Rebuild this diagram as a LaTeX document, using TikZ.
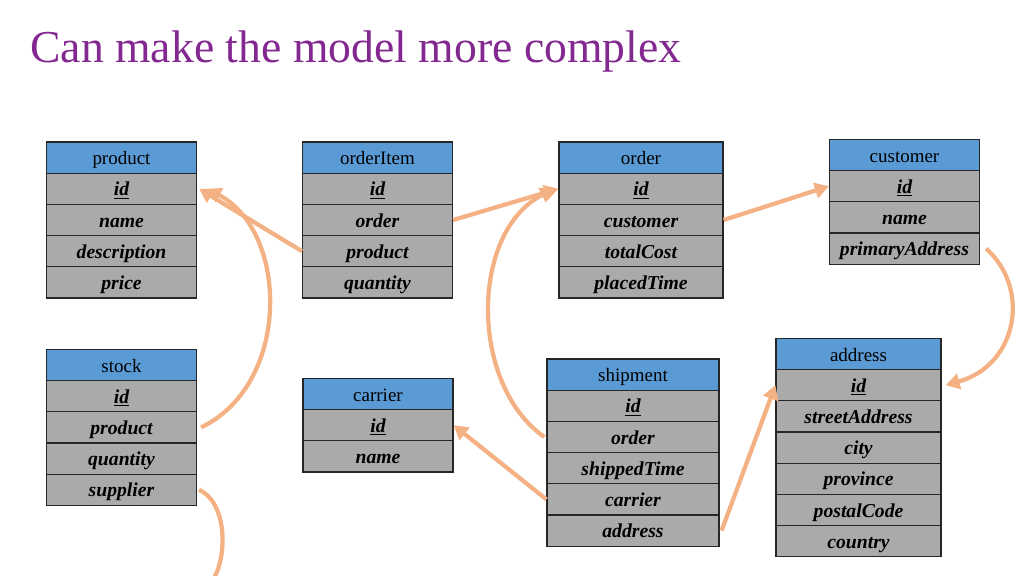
\documentclass[tikz,border=0pt]{standalone}
\usepackage{fontspec}
\setmainfont{Liberation Serif}
\usepackage{xcolor}
\usepackage{tikz}
\usetikzlibrary{arrows.meta}
\definecolor{headblue}{RGB}{91,155,213}
\definecolor{rowgray}{RGB}{170,170,170}
\definecolor{linkorange}{RGB}{244,177,131}
\definecolor{titlepurple}{RGB}{132,40,145}

\begin{document}
\begin{tikzpicture}[
x=0.025cm,
y=-0.025cm,
every node/.style={font=\fontsize{14}{16}\selectfont},
thead/.style={rectangle,draw=black!85,line width=0.8pt,fill=headblue,inner sep=0pt,minimum height=0.78cm,minimum width=#1,text height=11.5pt,text depth=1.5pt,font=\fontsize{13.5}{15}\selectfont},
tfield/.style={rectangle,draw=black!85,line width=0.8pt,fill=rowgray,inner sep=0pt,minimum height=0.78cm,minimum width=#1,text height=11.5pt,text depth=1.5pt,font=\fontsize{14}{16}\selectfont\bfseries\itshape},
tlink/.style={draw=linkorange,line width=3pt,-{Triangle[length=10pt,width=11pt]}},
tlinkopen/.style={draw=linkorange,line width=3pt},
ttitle/.style={text=titlepurple,inner sep=0pt,font=\fontsize{32.5}{36}\selectfont}
]
\useasboundingbox (0,0) rectangle (1024,576);

\node[ttitle,anchor=base west] (title) at (30,63) {Can make the model more complex};

\node[thead=3.75cm] (product) at (121.5,157.6) {product};
\node[tfield=3.75cm] (product-id) at (121.5,188.8) {\underline{id}};
\node[tfield=3.75cm] (product-name) at (121.5,220.0) {name};
\node[tfield=3.75cm] (product-description) at (121.5,251.2) {description};
\node[tfield=3.75cm] (product-price) at (121.5,282.4) {price};

\node[thead=3.75cm] (orderitem) at (377.5,157.6) {orderItem};
\node[tfield=3.75cm] (orderitem-id) at (377.5,188.8) {\underline{id}};
\node[tfield=3.75cm] (orderitem-order) at (377.5,220.0) {order};
\node[tfield=3.75cm] (orderitem-product) at (377.5,251.2) {product};
\node[tfield=3.75cm] (orderitem-quantity) at (377.5,282.4) {quantity};

\node[thead=4.1cm] (order) at (641,157.6) {order};
\node[tfield=4.1cm] (order-id) at (641,188.8) {\underline{id}};
\node[tfield=4.1cm] (order-customer) at (641,220.0) {customer};
\node[tfield=4.1cm] (order-totalcost) at (641,251.2) {totalCost};
\node[tfield=4.1cm] (order-placedtime) at (641,282.4) {placedTime};

\node[thead=3.75cm] (customer) at (904.5,155.0) {customer};
\node[tfield=3.75cm] (customer-id) at (904.5,186.2) {\underline{id}};
\node[tfield=3.75cm] (customer-name) at (904.5,217.4) {name};
\node[tfield=3.75cm] (customer-primaryaddress) at (904.5,248.6) {primaryAddress};

\node[thead=3.75cm] (stock) at (121.5,365.0) {stock};
\node[tfield=3.75cm] (stock-id) at (121.5,396.2) {\underline{id}};
\node[tfield=3.75cm] (stock-product) at (121.5,427.4) {product};
\node[tfield=3.75cm] (stock-quantity) at (121.5,458.6) {quantity};
\node[tfield=3.75cm] (stock-supplier) at (121.5,489.8) {supplier};

\node[thead=3.75cm] (carrier) at (378,394.0) {carrier};
\node[tfield=3.75cm] (carrier-id) at (378,425.2) {\underline{id}};
\node[tfield=3.75cm] (carrier-name) at (378,456.4) {name};

\node[thead=4.3cm] (shipment) at (633,374.6) {shipment};
\node[tfield=4.3cm] (shipment-id) at (633,405.8) {\underline{id}};
\node[tfield=4.3cm] (shipment-order) at (633,437.0) {order};
\node[tfield=4.3cm] (shipment-shippedtime) at (633,468.2) {shippedTime};
\node[tfield=4.3cm] (shipment-carrier) at (633,499.4) {carrier};
\node[tfield=4.3cm] (shipment-address) at (633,530.6) {address};

\node[thead=4.125cm] (address) at (858.5,354.0) {address};
\node[tfield=4.125cm] (address-id) at (858.5,385.2) {\underline{id}};
\node[tfield=4.125cm] (address-streetaddress) at (858.5,416.4) {streetAddress};
\node[tfield=4.125cm] (address-city) at (858.5,447.6) {city};
\node[tfield=4.125cm] (address-province) at (858.5,478.8) {province};
\node[tfield=4.125cm] (address-postalcode) at (858.5,510.0) {postalCode};
\node[tfield=4.125cm] (address-country) at (858.5,541.2) {country};

\coordinate (supplier-end) at (214,578);

\draw[tlink] (orderitem-product.west) -- ([xshift=0.05cm]product-id.east);
\draw[tlink] ([xshift=0.1cm]stock-product.east) .. controls +(90,-43) and +(82,43) .. ([xshift=0.25cm]product-id.east);
\draw[tlink] (orderitem-order.east) -- (order-id.west);
\draw[tlink] ([xshift=-0.05cm]shipment-order.west) .. controls +(-75,-52) and +(-85,43) .. ([xshift=-0.1cm]order-id.west);
\draw[tlink] (order-customer.east) -- (customer-id.west);
\draw[tlink] ([xshift=0.15cm]customer-primaryaddress.east) .. controls +(45,40) and +(72,-20) .. ([xshift=0.1cm]address-id.east);
\draw[tlink] (shipment-carrier.west) -- (carrier-id.east);
\draw[tlink] ([xshift=0.05cm]shipment-address.east) -- (address-id.west);
\draw[tlinkopen] ([xshift=0.05cm]stock-supplier.east) .. controls +(27,12) and +(14,-25) .. (supplier-end);
\end{tikzpicture}
\end{document}
